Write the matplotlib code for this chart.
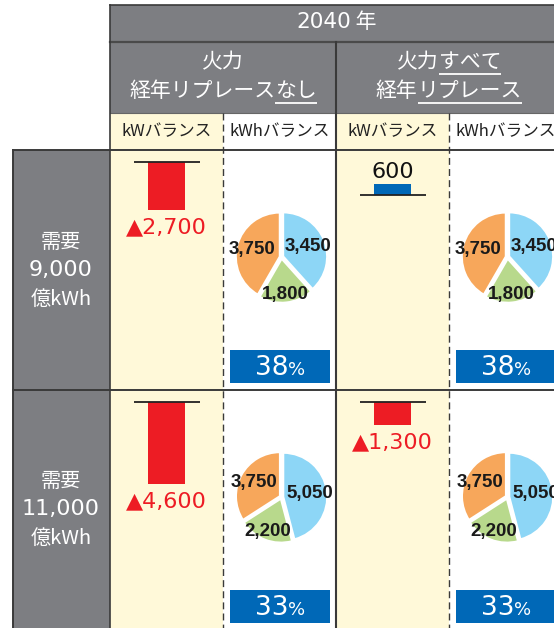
import matplotlib
matplotlib.use('Agg')
import matplotlib.pyplot as plt
from matplotlib.patches import Rectangle
import numpy as np

plt.rcParams['font.family'] = ['Noto Sans CJK JP', 'DejaVu Sans']

# ---------------- data ----------------
year_label = '2040'
year_suffix = '年'
# scenario header lines: list of (text, underlined)
scenario_a = [[('火力', False)], [('経年リプレース', False), ('なし', True)]]
scenario_b = [[('火力', False), ('すべて', True)], [('経年', False), ('リプレース', True)]]
sub_headers = ['kWバランス', 'kWhバランス', 'kWバランス', 'kWhバランス']
demand_word = '需要'
demand_values = ['9,000', '11,000']
demand_unit = '億kWh'
# kW balance [row][scenario]
kw_balance = [[-2700, 600], [-4600, -1300]]
# kWh pie slices [row][scenario]
pie_blue = [[3450, 3450], [5050, 5050]]
pie_green = [[1800, 1800], [2200, 2200]]
pie_orange = [[3750, 3750], [3750, 3750]]
share_pct = [[38, 38], [33, 33]]

# ---------------- style ----------------
W, H = 554, 628
GRAY = '#7d7e82'
YELLOW = '#fff9d9'
DARK = '#3a3a3a'
RED = '#ed1c24'
BLUE = '#0068b7'
PIE_COLORS = ['#8dd6f6', '#b8d98c', '#f7a75b']
NUM_FONT = ['DejaVu Sans']
PIE_FONT = ['Liberation Sans', 'DejaVu Sans']

col_edges = [110, 223, 336, 449, 562]
row_edges = [150, 390, 628]
lab_x0, lab_x1 = 13, 110

fig = plt.figure(figsize=(W / 100, H / 100), dpi=100)
bg = fig.add_axes([0, 0, 1, 1])
bg.set_xlim(0, W)
bg.set_ylim(H, 0)
bg.axis('off')
renderer = fig.canvas.get_renderer()


def rect(x0, y0, x1, y1, color, z=0):
    bg.add_patch(Rectangle((x0, y0), x1 - x0, y1 - y0, facecolor=color,
                           edgecolor='none', zorder=z))


def runs_text(cx, y, runs, underline_y=None, va='center', **common):
    """Place a sequence of text runs centred on cx."""
    widths = []
    for s, kw, _ in runs:
        t = bg.text(0, 0, s, **{**common, **kw})
        widths.append(t.get_window_extent(renderer).width)
        t.remove()
    x = cx - sum(widths) / 2
    for (s, kw, ul), w in zip(runs, widths):
        bg.text(x, y, s, ha='left', va=va, zorder=5, **{**common, **kw})
        if ul and underline_y is not None:
            bg.plot([x, x + w], [underline_y, underline_y], color='white',
                    lw=1.3, zorder=5, solid_capstyle='butt')
        x += w


# header backgrounds
rect(col_edges[0], 5, col_edges[-1], 113, GRAY)
for i in range(4):
    c = YELLOW if i % 2 == 0 else 'white'
    rect(col_edges[i], 113, col_edges[i + 1], 150, c)
    rect(col_edges[i], 150, col_edges[i + 1], H, c)
rect(lab_x0, 150, lab_x1, H, GRAY)

# lines
lk = dict(color=DARK, zorder=3)
bg.plot([col_edges[0], W], [5, 5], lw=1.2, **lk)
bg.plot([col_edges[0], W], [42, 42], lw=1.6, color='#4a4a4a', zorder=3)
bg.plot([col_edges[0], W], [113, 113], lw=0.8, color='#666666', zorder=3)
bg.plot([336, 336], [42, H], lw=1.5, **lk)
bg.plot([lab_x0, W], [150, 150], lw=1.4, **lk)
bg.plot([lab_x0, W], [390, 390], lw=1.4, **lk)
bg.plot([lab_x0, lab_x0], [150, H], lw=1.4, **lk)
bg.plot([lab_x1, lab_x1], [5, H], lw=1.2, **lk)
for xd in (223, 449):
    bg.plot([xd, xd], [113, H], lw=1.0, color=DARK, ls=(0, (5, 3)), zorder=3)

# header texts
runs_text(336, 22, [(year_label, dict(family=NUM_FONT, fontsize=15.5), False),
                    (' ' + year_suffix, dict(fontsize=15), False)],
          color='white')
for cx, lines in ((223, scenario_a), (449, scenario_b)):
    for li, (yy, uy) in enumerate(((62, 74), (91, 103))):
        runs_text(cx, yy, [(s, {}, u) for s, u in lines[li]],
                  underline_y=uy, color='white', fontsize=15)
for i, s in enumerate(sub_headers):
    bg.text((col_edges[i] + col_edges[i + 1]) / 2, 132, s, ha='center',
            va='center', fontsize=12, color='#222222', zorder=5)

# row labels
for r in range(2):
    cy = (row_edges[r] + row_edges[r + 1]) / 2
    bg.text(61, cy - 28, demand_word, ha='center', va='center', color='white',
            fontsize=14.5, zorder=5)
    bg.text(61, cy, demand_values[r], ha='center', va='center', color='white',
            fontsize=16, family=NUM_FONT, zorder=5)
    bg.text(61, cy + 29, demand_unit, ha='center', va='center', color='white',
            fontsize=14.5, zorder=5)


def px_axes(x0, y0, x1, y1):
    a = fig.add_axes([x0 / W, 1 - y1 / H, (x1 - x0) / W, (y1 - y0) / H])
    a.axis('off')
    a.patch.set_alpha(0)
    return a


K = 0.0178  # px per unit
for r in range(2):
    y0, y1 = row_edges[r], row_edges[r + 1]
    for s in range(2):
        # kW bar cell
        c = 2 * s
        x0, x1 = col_edges[c], col_edges[c + 1]
        v = kw_balance[r][s]
        hc = y1 - y0
        b = 12 if v < 0 else 45
        ab = px_axes(x0, y0, x1, y1)
        ab.set_xlim(-(x1 - x0) / 2, (x1 - x0) / 2)
        ab.set_ylim(-(hc - b) / K, b / K)
        ab.bar(0, v, width=37, color=RED if v < 0 else BLUE, zorder=2)
        ab.hlines(0, -33, 33, color='#222222', lw=1.3, zorder=3)
        if v < 0:
            ab.annotate('▲{:,}'.format(abs(v)), (0, v), xytext=(0, -17),
                        textcoords='offset pixels', ha='center', va='center',
                        color=RED, fontsize=16, family=NUM_FONT)
        else:
            ab.annotate('{:,}'.format(v), (0, v), xytext=(0, 12),
                        textcoords='offset pixels', ha='center', va='center',
                        color='#111111', fontsize=16, family=NUM_FONT)

        # kWh pie cell
        c = 2 * s + 1
        x0, x1 = col_edges[c], col_edges[c + 1]
        cx = (x0 + x1) / 2 + 2
        cy = y0 + 107
        R = 44
        L = 1.35
        ap = fig.add_axes([(cx - L * R) / W, 1 - (cy + L * R) / H,
                           2 * L * R / W, 2 * L * R / H])
        vals = [pie_blue[r][s], pie_green[r][s], pie_orange[r][s]]
        wedges, _ = ap.pie(vals, colors=PIE_COLORS, startangle=90,
                           counterclock=False, explode=[0.04] * 3,
                           wedgeprops=dict(edgecolor='white', linewidth=1.5))
        ap.set_xlim(-L, L)
        ap.set_ylim(-L, L)
        ap.axis('off')
        for w, d, val in zip(wedges, (0.64, 0.85, 0.70), vals):
            th = np.deg2rad((w.theta1 + w.theta2) / 2)
            ap.text(d * np.cos(th), d * np.sin(th), '{:,}'.format(val),
                    ha='center', va='center', fontsize=13.5, color='#1a1a1a',
                    family=PIE_FONT, weight='bold', zorder=5)

        # share box
        rect(x0 + 7, y0 + 200, x0 + 107, y0 + 233, BLUE, z=4)
        runs_text(x0 + 57, y0 + 225,
                  [(str(share_pct[r][s]), dict(fontsize=19), False),
                   ('%', dict(fontsize=13), False)],
                  va='baseline', color='white', family=NUM_FONT)

fig.savefig('out.png', dpi=100)
